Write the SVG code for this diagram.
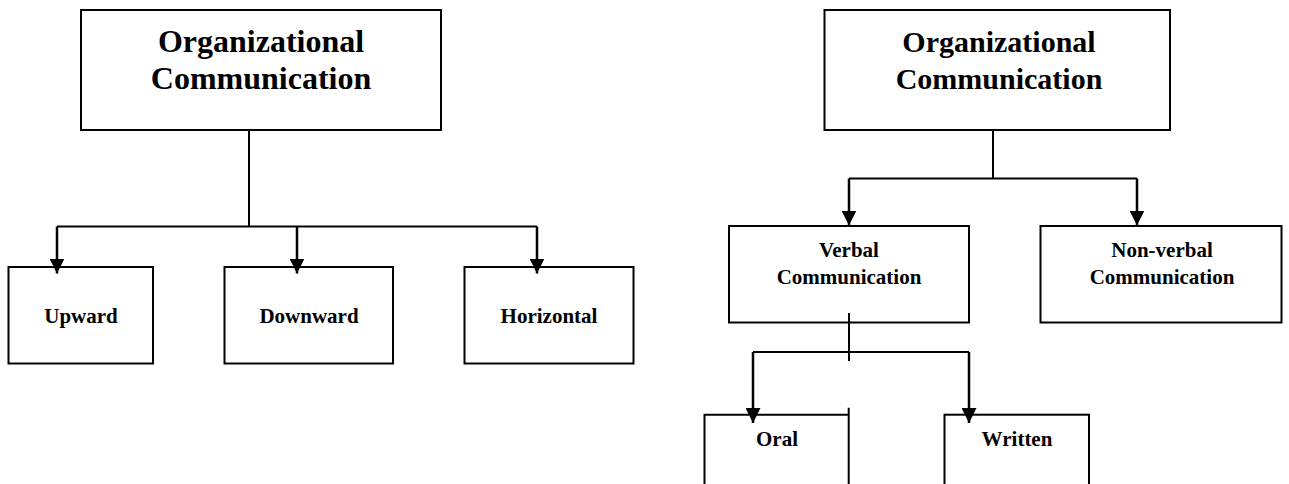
<svg xmlns="http://www.w3.org/2000/svg" width="1289" height="484" viewBox="0 0 1289 484">
<style>
.box{fill:#fff;stroke:#000;stroke-width:2}
.ln{fill:none;stroke:#000;stroke-width:2}
.stem{fill:none;stroke:#000;stroke-width:2.5}
text{font-family:"Liberation Serif","Times New Roman",serif;font-weight:bold;fill:#000;text-anchor:middle}
.t1{font-size:32px}
.t1r{font-size:30px}
.t2{font-size:21px}
</style>
<defs>
<marker id="arr" viewBox="0 0 15 15" refX="15" refY="7.5" markerWidth="15" markerHeight="15" markerUnits="userSpaceOnUse" orient="auto">
<path d="M0,0 L15,7.5 L0,15 z" fill="#000"/>
</marker>
</defs>

<g id="org-left">
<rect class="box" x="81" y="10" width="360" height="120"/>
<text class="t1" x="261" y="51.5">Organizational</text>
<text class="t1" x="261" y="88.5">Communication</text>
</g>
<g id="upward">
<rect class="box" x="8.5" y="267" width="144.5" height="96.5"/>
<text class="t2" x="81" y="323">Upward</text>
</g>
<g id="downward">
<rect class="box" x="224.5" y="267" width="168.5" height="96.5"/>
<text class="t2" x="309" y="323">Downward</text>
</g>
<g id="horizontal">
<rect class="box" x="464.5" y="267" width="169" height="96.5"/>
<text class="t2" x="549" y="323">Horizontal</text>
</g>

<g id="org-right">
<rect class="box" x="824.5" y="10" width="345.5" height="120"/>
<text class="t1r" x="999" y="51.5">Organizational</text>
<text class="t1r" x="999" y="88.5">Communication</text>
</g>
<g id="verbal">
<rect class="box" x="729" y="226" width="240" height="96.5"/>
<text class="t2" x="849" y="256.5">Verbal</text>
<text class="t2" x="849" y="283.5">Communication</text>
</g>
<g id="nonverbal">
<rect class="box" x="1040.5" y="226" width="241" height="96.5"/>
<text class="t2" x="1162" y="256.5">Non-verbal</text>
<text class="t2" x="1162" y="283.5">Communication</text>
</g>
<g id="oral">
<path class="ln" d="M704.5,490 V414.7 H848.7 M848.7,407.7 V490"/>
<text class="t2" x="777" y="446">Oral</text>
</g>
<g id="written">
<rect class="box" x="944.5" y="414.7" width="144.5" height="90"/>
<text class="t2" x="1017" y="446">Written</text>
</g>

<g id="connectors">
<path class="ln" d="M249,130 V226.5 M57,226.5 H537"/>
<path class="stem" d="M57,226.5 V273.5" marker-end="url(#arr)"/>
<path class="stem" d="M297,226.5 V273.5" marker-end="url(#arr)"/>
<path class="stem" d="M537,226.5 V273.5" marker-end="url(#arr)"/>
<path class="ln" d="M993,130 V178.5 M849,178.5 H1137"/>
<path class="stem" d="M849,178.5 V225.5" marker-end="url(#arr)"/>
<path class="stem" d="M1137,178.5 V225.5" marker-end="url(#arr)"/>
<path class="ln" d="M849,313 V361 M753,352 H969"/>
<path class="stem" d="M753,352 V423" marker-end="url(#arr)"/>
<path class="stem" d="M969,352 V423" marker-end="url(#arr)"/>
</g>
</svg>
